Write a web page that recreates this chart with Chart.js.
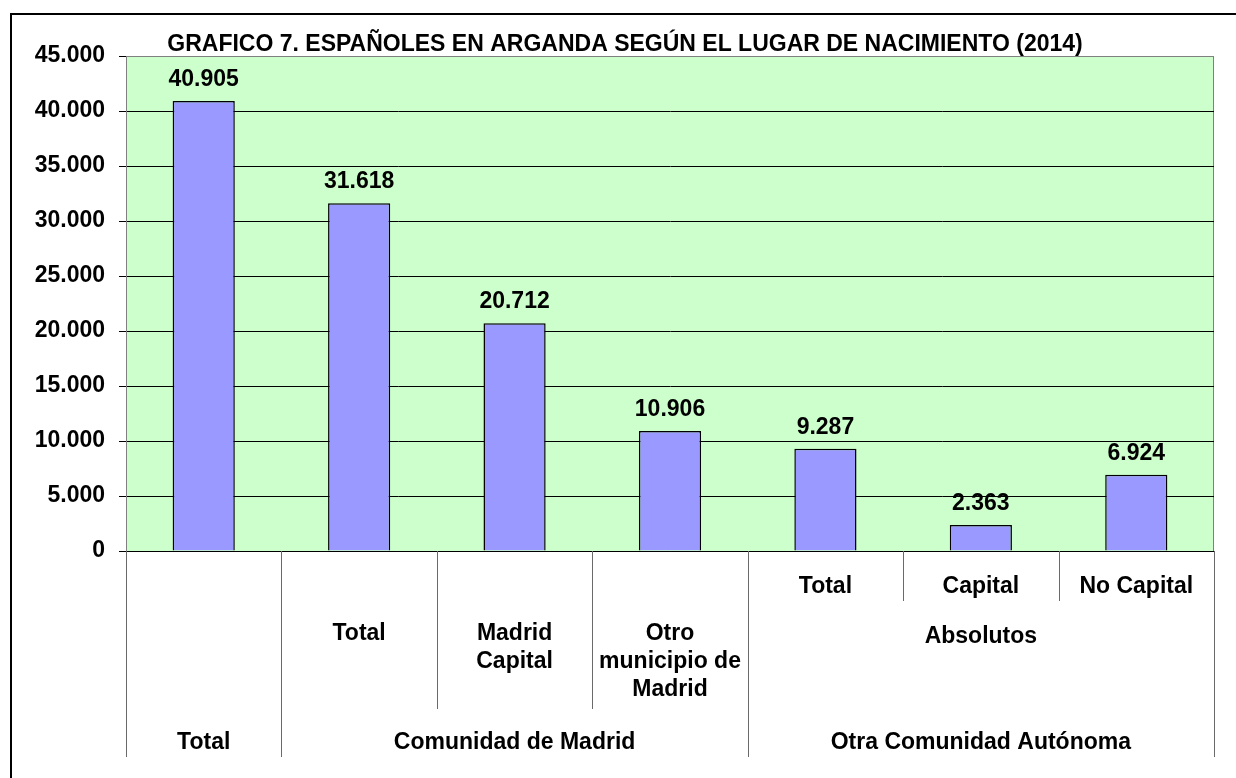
<!DOCTYPE html>
<html>
<head>
<meta charset="utf-8">
<script src="https://cdn.jsdelivr.net/npm/chart.js@4.4.1/dist/chart.umd.min.js"></script>
<style>
  html, body { margin: 0; padding: 0; background: #fff; }
  #wrap { width: 1236px; height: 778px; }
</style>
</head>
<body>
<div id="wrap"><canvas id="myChart" width="1236" height="778"></canvas></div>
<script>
// data
var chartTitle = 'GRAFICO 7. ESPAÑOLES EN ARGANDA SEGÚN EL LUGAR DE NACIMIENTO (2014)';
var categories = [[], ['Total'], ['Madrid', 'Capital'], ['Otro', 'municipio de', 'Madrid'], ['Total'], ['Capital'], ['No Capital']];
var values = [40905, 31618, 20712, 10906, 9287, 2363, 6924];
var subGroups = [{ label: 'Absolutos', from: 4, to: 6 }];
var groups = [
  { label: 'Total', from: 0, to: 0 },
  { label: 'Comunidad de Madrid', from: 1, to: 3 },
  { label: 'Otra Comunidad Autónoma', from: 4, to: 6 }
];
var yMax = 45000;
var yStep = 5000;

var FONT = 'Arial, "Liberation Sans", sans-serif';

function fmt(v) {
  return String(v).replace(/\B(?=(\d{3})+(?!\d))/g, '.');
}

function groupOf(list, i) {
  for (var k = 0; k < list.length; k++) {
    if (i >= list[k].from && i <= list[k].to) return k;
  }
  return -1;
}

var backgroundPlugin = {
  id: 'bg',
  beforeDraw: function(chart) {
    var c = chart.ctx, a = chart.chartArea;
    c.save();
    c.fillStyle = '#fff';
    c.fillRect(0, 0, chart.width, chart.height);
    c.fillStyle = '#CCFFCC';
    c.fillRect(a.left, a.top, a.right - a.left, a.bottom - a.top);
    c.strokeStyle = '#808080';
    c.lineWidth = 1;
    c.strokeRect(a.left + 0.5, a.top + 0.5, a.right - a.left - 1, a.bottom - a.top);
    c.restore();
  }
};

var extrasPlugin = {
  id: 'extras',
  afterDraw: function(chart) {
    var c = chart.ctx, a = chart.chartArea;
    var x = chart.scales.x;
    var meta = chart.getDatasetMeta(0);
    c.save();

    // outer frame
    c.strokeStyle = '#000';
    c.lineWidth = 2;
    c.beginPath();
    c.moveTo(11, 800);
    c.lineTo(11, 14);
    c.lineTo(1240, 14);
    c.stroke();

    // title
    c.fillStyle = '#000';
    c.font = 'bold 23px ' + FONT;
    c.textAlign = 'center';
    c.textBaseline = 'middle';
    c.fillText(chartTitle, 625, 45);

    // value labels
    c.font = 'bold 23px ' + FONT;
    c.textBaseline = 'alphabetic';
    meta.data.forEach(function(bar, i) {
      c.fillText(fmt(values[i]), bar.x, bar.y - 15);
    });

    // multi level category axis
    var n = values.length;
    var half = (x.getPixelForValue(1) - x.getPixelForValue(0)) / 2;
    c.strokeStyle = '#6a6a6a';
    c.lineWidth = 1;
    for (var b = 0; b <= n; b++) {
      var bx = b === 0 ? a.left : (b === n ? a.right : x.getPixelForValue(b) - half);
      var end = 757;
      if (b > 0 && b < n && groupOf(groups, b - 1) === groupOf(groups, b)) {
        var s1 = groupOf(subGroups, b - 1), s2 = groupOf(subGroups, b);
        end = (s1 >= 0 && s1 === s2) ? 601 : 709;
      }
      bx = Math.round(bx) + 0.5;
      c.beginPath();
      c.moveTo(bx, a.bottom);
      c.lineTo(bx, end);
      c.stroke();
    }

    c.fillStyle = '#000';
    c.textBaseline = 'middle';
    categories.forEach(function(lines, i) {
      var cx = x.getPixelForValue(i);
      var y0 = groupOf(subGroups, i) >= 0 ? 587 : 634;
      lines.forEach(function(t, j) {
        c.fillText(t, cx, y0 + j * 28);
      });
    });
    subGroups.forEach(function(g) {
      var cx = (x.getPixelForValue(g.from) + x.getPixelForValue(g.to)) / 2;
      c.fillText(g.label, cx, 637);
    });
    groups.forEach(function(g) {
      var cx = (x.getPixelForValue(g.from) + x.getPixelForValue(g.to)) / 2;
      c.fillText(g.label, cx, 743);
    });
    c.restore();
  }
};

var ctx = document.getElementById('myChart');

var barGraph = new Chart(ctx, {
  type: 'bar',
  data: {
    labels: categories.map(function(l) { return l.join(' '); }),
    datasets: [{
      data: values,
      backgroundColor: '#9999FF',
      borderColor: '#000',
      borderWidth: 1.5,
      barPercentage: 0.4,
      categoryPercentage: 1
    }]
  },
  options: {
    responsive: false,
    animation: false,
    layout: { padding: { left: 0, right: 22, top: 56, bottom: 0 } },
    plugins: {
      legend: { display: false },
      title: { display: false },
      tooltip: { enabled: false }
    },
    scales: {
      x: {
        grid: { display: false },
        ticks: { display: false },
        border: { display: true, color: '#000', width: 1 },
        afterFit: function(scale) { scale.height = 227; }
      },
      y: {
        min: 0,
        max: yMax,
        ticks: {
          stepSize: yStep,
          padding: 14,
          color: '#000',
          font: { family: FONT, size: 23, weight: 'bold' },
          callback: function(v) { return fmt(v); }
        },
        grid: {
          color: function(c) { return c.tick && c.tick.value === yMax ? '#808080' : '#000'; },
          tickColor: '#000',
          tickLength: 7,
          lineWidth: 1
        },
        border: { color: '#808080', width: 1 },
        afterFit: function(scale) { scale.width = 126; }
      }
    }
  },
  plugins: [backgroundPlugin, extrasPlugin]
});
</script>
</body>
</html>
